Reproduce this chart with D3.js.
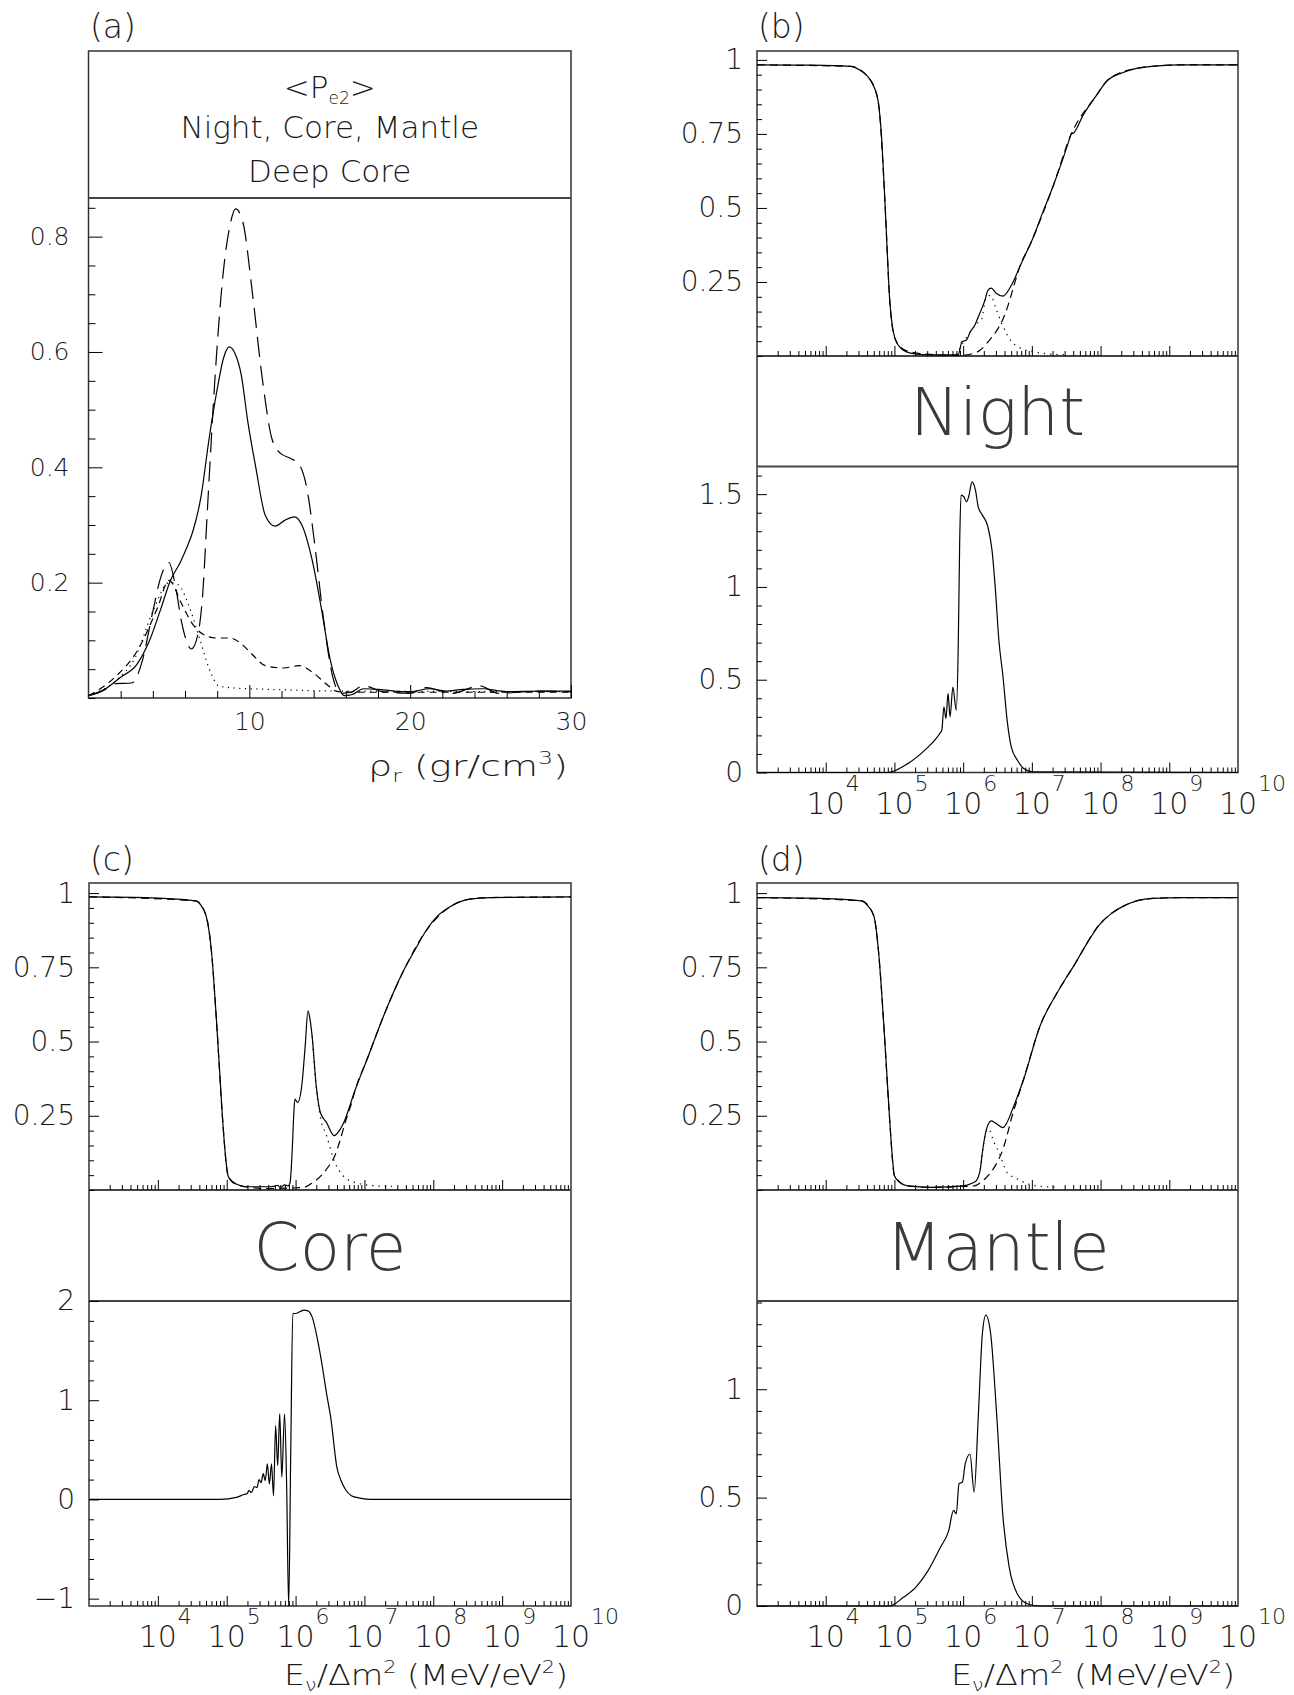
<!DOCTYPE html>
<html>
<head>
<meta charset="utf-8">
<script src="https://cdn.jsdelivr.net/npm/d3@7"></script>
<style>
  body { margin: 0; background: #fff; }
  svg { display: block; }
  text { font-family: "DejaVu Sans", sans-serif; font-weight: 200; fill: #1a1a1a; }
</style>
</head>
<body>
<script>
// ---- panel (a): <Pe2> vs rho_r ----
const aYTicks = [0.2, 0.4, 0.6, 0.8];
const aYLabels = ["0.2", "0.4", "0.6", "0.8"];
const aXTicks = [10, 20, 30];
const aXLabels = ["10", "20", "30"];
const aHeader = ["Night, Core, Mantle", "Deep Core"];

// solid
const pe2Night = [[0,0.004],[1,0.015],[2,0.036],[3,0.058],[3.8,0.10],[4.5,0.155],[5.1,0.204],[5.7,0.235],
  [6.1,0.26],[6.5,0.29],[7.0,0.35],[7.5,0.45],[8.0,0.535],[8.4,0.59],[8.75,0.609],[9.1,0.598],[9.5,0.56],
  [9.9,0.48],[10.4,0.40],[11.0,0.316],[11.6,0.298],[12.2,0.308],[12.8,0.314],[13.3,0.298],[13.9,0.24],
  [14.5,0.152],[15.0,0.07],[15.5,0.022],[15.9,0.004],[16.4,0.006],[17.1,0.016],[18,0.015],[19,0.012],
  [20,0.011],[21.2,0.016],[22.2,0.012],[23.3,0.015],[24.5,0.016],[26,0.011],[28,0.012],[30,0.012]];
// long dash
const pe2Core = [[0,0.004],[1,0.014],[1.6,0.025],[2.7,0.026],[3.3,0.06],[4.0,0.15],[4.5,0.21],[5.0,0.235],
  [5.4,0.195],[5.8,0.13],[6.4,0.085],[6.8,0.11],[7.1,0.18],[7.4,0.33],[7.9,0.57],[8.35,0.73],[8.8,0.82],
  [9.15,0.848],[9.6,0.825],[10.2,0.70],[10.8,0.555],[11.4,0.45],[11.9,0.425],[12.6,0.415],[13.1,0.405],
  [13.6,0.36],[14.05,0.27],[14.6,0.14],[15.2,0.035],[15.7,0.008],[16.3,0.01],[17.1,0.021],[18.3,0.011],
  [20,0.008],[21,0.018],[22.6,0.008],[24.3,0.021],[25.5,0.008],[27.8,0.012],[30,0.011]];
// short dash
const pe2Mantle = [[0,0.004],[1.6,0.035],[3.1,0.085],[4.3,0.157],[5.0,0.204],[5.8,0.163],[6.4,0.131],
  [7.1,0.111],[7.9,0.104],[8.8,0.104],[9.5,0.094],[10.2,0.075],[11,0.056],[12.1,0.052],[13.1,0.056],
  [14,0.043],[14.8,0.024],[15.5,0.011],[16.5,0.01],[30,0.01]];
// dotted
const pe2DeepCore = [[0,0.004],[1.7,0.03],[2.9,0.07],[4.0,0.15],[5.0,0.2],[5.6,0.196],[6.2,0.163],
  [6.9,0.104],[7.5,0.051],[8.1,0.021],[8.8,0.018],[11.2,0.015],[13.6,0.013],[15.5,0.012],[30,0.011]];

// ---- panels (b), (c), (d): x = log10(E/dm2) ----
const logExponents = ["4", "5", "6", "7", "8", "9", "10"];
const upperYTicks = [0.25, 0.5, 0.75, 1];
const upperYLabels = ["0.25", "0.5", "0.75", "1"];

// (b) Night
const nightTotal = [[3,0.983],[3.8,0.982],[4.36,0.978],[4.5,0.965],[4.61,0.944],[4.7,0.91],[4.76,0.865],
  [4.81,0.75],[4.86,0.529],[4.9,0.33],[4.93,0.193],[4.97,0.1],[5.01,0.058],[5.08,0.03],[5.16,0.015],
  [5.3,0.007],[5.5,0.004],[5.93,0.004],[5.96,0.03],[5.98,0.048],[6.05,0.054],[6.1,0.08],[6.17,0.104],
  [6.22,0.132],[6.27,0.16],[6.32,0.19],[6.36,0.222],[6.41,0.229],[6.48,0.212],[6.58,0.202],[6.64,0.215],
  [6.7,0.238],[6.85,0.315],[7.01,0.395],[7.15,0.48],[7.31,0.574],[7.45,0.665],[7.55,0.735],[7.57,0.75],
  [7.6,0.752],[7.75,0.815],[7.93,0.877],[8.11,0.933],[8.3,0.955],[8.54,0.972],[8.8,0.979],[9.16,0.983],[10,0.983]];
const nightDotted = [[5.9,0.004],[6.0,0.045],[6.1,0.08],[6.2,0.11],[6.27,0.125],[6.33,0.195],[6.4,0.205],
  [6.47,0.165],[6.58,0.1],[6.7,0.05],[6.85,0.025],[7.0,0.015],[7.2,0.008],[7.5,0.004]];
const nightDashed = [[3,0.983],[4.36,0.978],[4.61,0.944],[4.76,0.865],[4.86,0.529],[4.93,0.193],[5.01,0.058],
  [5.16,0.019],[5.47,0.006],[5.9,0.002],[6.1,0.006],[6.25,0.02],[6.37,0.05],[6.5,0.09],[6.58,0.125],
  [6.66,0.175],[6.73,0.23],[6.8,0.285],[7.01,0.395],[7.31,0.574],[7.56,0.742],[7.93,0.877],[8.11,0.933],
  [8.54,0.972],[9.16,0.983],[10,0.983]];
const nightLowerTicks = [0, 0.5, 1, 1.5];
const nightLowerLabels = ["0", "0.5", "1", "1.5"];
const nightLower = [[3,0],[4.9,0],[5.16,0.04],[5.47,0.13],[5.6,0.18],[5.66,0.21],[5.69,0.23],[5.72,0.354],
  [5.75,0.29],[5.78,0.426],[5.81,0.30],[5.85,0.46],[5.9,0.336],[5.93,0.71],[5.95,1.25],[5.97,1.495],
  [6.01,1.486],[6.05,1.459],[6.08,1.486],[6.13,1.566],[6.18,1.52],[6.22,1.43],[6.28,1.387],[6.36,1.324],
  [6.42,1.198],[6.47,0.983],[6.52,0.713],[6.58,0.516],[6.64,0.282],[6.7,0.138],[6.79,0.066],[6.88,0.022],
  [7.01,0.004],[10,0]];

// (c) Core
const coreTotal = [[3,0.987],[3.8,0.985],[4.55,0.974],[4.65,0.95],[4.7,0.924],[4.78,0.8],[4.85,0.575],
  [4.9,0.39],[4.94,0.239],[4.98,0.12],[5.02,0.048],[5.08,0.027],[5.14,0.02],[5.26,0.011],[5.62,0.011],
  [5.7,0.013],[5.74,0.016],[5.77,0.01],[5.8,0.011],[5.84,0.017],[5.89,0.014],[5.92,0.025],[5.95,0.127],
  [5.975,0.26],[5.99,0.306],[6.03,0.295],[6.09,0.351],[6.14,0.486],[6.18,0.603],[6.21,0.575],[6.24,0.519],
  [6.3,0.351],[6.36,0.261],[6.45,0.227],[6.56,0.183],[6.62,0.195],[6.69,0.222],[6.87,0.34],[7.04,0.441],
  [7.28,0.587],[7.45,0.68],[7.58,0.744],[7.75,0.815],[7.88,0.868],[8.05,0.92],[8.23,0.952],[8.53,0.98],
  [8.83,0.985],[10,0.987]];
const coreDotted = [[6.24,0.519],[6.3,0.345],[6.36,0.245],[6.45,0.183],[6.57,0.093],[6.69,0.048],
  [6.87,0.025],[7.16,0.014],[7.4,0.012]];
const coreDashed = [[3,0.987],[4.55,0.974],[4.7,0.924],[4.78,0.8],[4.85,0.575],[4.94,0.239],[5.02,0.048],
  [5.14,0.02],[5.3,0.01],[5.6,0.005],[6.12,0.009],[6.25,0.025],[6.39,0.053],[6.48,0.08],[6.57,0.115],
  [6.65,0.17],[6.72,0.227],[6.81,0.29],[6.87,0.34],[7.04,0.441],[7.28,0.587],[7.58,0.744],[7.88,0.868],
  [8.23,0.952],[8.53,0.98],[8.83,0.985],[10,0.987]];
const coreLowerTicks = [-1, 0, 1, 2];
const coreLowerLabels = ["\u22121", "0", "1", "2"];
const coreLower = [[3,0],[4.91,0],[5.14,0.02],[5.25,0.05],[5.3,0.06],[5.32,0.09],[5.36,0.07],[5.4,0.13],
  [5.44,0.12],[5.47,0.2],[5.5,0.17],[5.53,0.26],[5.56,0.19],[5.59,0.358],[5.62,0.156],[5.65,0.358],
  [5.68,0.038],[5.71,0.745],[5.74,0.341],[5.77,0.863],[5.8,0.224],[5.84,0.863],[5.87,0.156],[5.9,-1.074],
  [5.93,0.49],[5.96,1.874],[6.0,1.874],[6.06,1.891],[6.12,1.908],[6.18,1.901],[6.24,1.84],[6.33,1.571],
  [6.39,1.335],[6.45,1.066],[6.51,0.83],[6.6,0.324],[6.66,0.19],[6.72,0.105],[6.81,0.038],[6.93,0.014],
  [7.1,0],[10,0]];

// (d) Mantle
const mantleTotal = [[3,0.985],[3.8,0.983],[4.52,0.974],[4.62,0.955],[4.7,0.923],[4.77,0.8],[4.84,0.575],
  [4.89,0.39],[4.93,0.239],[4.97,0.11],[5.0,0.048],[5.08,0.025],[5.19,0.014],[5.55,0.009],[6.0,0.014],
  [6.12,0.022],[6.19,0.031],[6.25,0.07],[6.28,0.127],[6.34,0.205],[6.41,0.233],[6.49,0.222],[6.58,0.21],
  [6.64,0.228],[6.7,0.261],[6.88,0.373],[7.12,0.553],[7.37,0.665],[7.5,0.715],[7.61,0.755],[7.8,0.83],
  [7.97,0.89],[8.15,0.93],[8.34,0.957],[8.76,0.982],[9.18,0.985],[10,0.985]];
const mantleDotted = [[6.25,0.07],[6.28,0.125],[6.34,0.2],[6.37,0.205],[6.45,0.16],[6.52,0.127],
  [6.64,0.059],[6.79,0.037],[7.06,0.014],[7.37,0.009]];
const mantleDashed = [[3,0.985],[4.52,0.974],[4.7,0.923],[4.77,0.8],[4.84,0.575],[4.93,0.239],[5.0,0.048],
  [5.19,0.014],[5.55,0.009],[6.0,0.012],[6.16,0.014],[6.28,0.03],[6.4,0.059],[6.5,0.095],[6.58,0.138],
  [6.64,0.185],[6.7,0.239],[6.78,0.3],[6.88,0.373],[7.12,0.553],[7.37,0.665],[7.61,0.755],[7.97,0.89],
  [8.34,0.957],[8.76,0.982],[9.18,0.985],[10,0.985]];
const mantleLowerTicks = [0, 0.5, 1];
const mantleLowerLabels = ["0", "0.5", "1"];
const mantleLower = [[3,0],[4.93,0],[5.13,0.04],[5.31,0.086],[5.49,0.163],[5.67,0.271],[5.79,0.348],
  [5.86,0.441],[5.9,0.425],[5.94,0.564],[5.99,0.572],[6.03,0.656],[6.1,0.70],[6.16,0.525],[6.22,0.872],
  [6.28,1.257],[6.33,1.342],[6.4,1.257],[6.49,0.872],[6.58,0.41],[6.67,0.179],[6.79,0.055],[6.94,0.009],
  [7.12,0],[10,0]];

const svg = d3.select("body").append("svg")
    .attr("width", 1294)
    .attr("height", 1695);

const FRAME = "#333";

function box(g, L, R, top, bottom, seps) {
    g.append("rect")
        .attr("x", L).attr("y", top)
        .attr("width", R - L).attr("height", bottom - top)
        .attr("fill", "none").attr("stroke", FRAME).attr("stroke-width", 1.5);
    seps.forEach(y => g.append("line")
        .attr("x1", L).attr("x2", R).attr("y1", y).attr("y2", y)
        .attr("stroke", "#444").attr("stroke-width", 1.8));
}

function yAxis(g, L, scale, ticks, labels, minorStep, bigLen, smallLen, pad, fontSize) {
    const [lo, hi] = scale.domain();
    const minors = d3.range(Math.ceil(lo / minorStep) * minorStep, hi + 1e-9, minorStep)
        .filter(v => !ticks.some(t => Math.abs(t - v) < 1e-9));
    g.append("g").attr("transform", `translate(${L},0)`)
        .call(d3.axisLeft(scale).tickValues(minors).tickSize(-smallLen).tickFormat(""))
        .call(s => s.select(".domain").remove());
    g.append("g").attr("transform", `translate(${L},0)`)
        .call(d3.axisLeft(scale).tickValues(ticks).tickSize(-bigLen).tickPadding(pad)
            .tickFormat((d, i) => labels[i]))
        .call(s => s.select(".domain").remove())
        .attr("font-size", fontSize).attr("font-family", null);
}

function xLogTicks(g, scale, y) {
    const majors = d3.range(4, 10).map(e => Math.pow(10, e));
    const minors = [];
    d3.range(3, 10).forEach(e => d3.range(2, 10).forEach(m => minors.push(m * Math.pow(10, e))));
    g.append("g").attr("transform", `translate(0,${y})`)
        .call(d3.axisBottom(scale).tickValues(minors).tickSize(-5).tickFormat(""))
        .call(s => s.select(".domain").remove());
    g.append("g").attr("transform", `translate(0,${y})`)
        .call(d3.axisBottom(scale).tickValues(majors).tickSize(-10).tickFormat(""))
        .call(s => s.select(".domain").remove());
}

function xLogLabels(g, scale, y) {
    logExponents.forEach(e => {
        const x = scale(Math.pow(10, +e));
        g.append("text").attr("x", x).attr("y", y + 41)
            .attr("text-anchor", "middle").attr("font-size", 30).text("10");
        g.append("text").attr("x", x + 20).attr("y", y + 18)
            .attr("font-size", 22).text(e);
    });
}

function curve(g, data, xs, ys, dash, isLog) {
    const line = d3.line()
        .x(d => xs(isLog ? Math.pow(10, d[0]) : d[0]))
        .y(d => ys(d[1]))
        .curve(d3.curveMonotoneX);
    g.append("path").datum(data)
        .attr("d", line)
        .attr("fill", "none")
        .attr("stroke", "#000")
        .attr("stroke-width", 1.2)
        .attr("stroke-dasharray", dash);
}

function panelLabel(x, y, s) {
    svg.append("text").attr("x", x).attr("y", y).attr("font-size", 33).text(s);
}

function energyTitle(g, xEnd, y) {
    const t = g.append("text").attr("x", xEnd).attr("y", y)
        .attr("text-anchor", "end").attr("font-size", 29)
        .attr("textLength", 284).attr("lengthAdjust", "spacingAndGlyphs");
    t.append("tspan").text("E");
    t.append("tspan").attr("font-size", 18).attr("dy", 6).text("\u03bd");
    t.append("tspan").attr("dy", -6).text("/\u0394m");
    t.append("tspan").attr("font-size", 18).attr("dy", -12).text("2");
    t.append("tspan").attr("dy", 12).text(" (MeV/eV");
    t.append("tspan").attr("font-size", 18).attr("dy", -12).text("2");
    t.append("tspan").attr("dy", 12).text(")");
}

// ================= panel (a) =================
{
    const L = 88.5, R = 571, top = 51, sep = 198, B = 698;
    const x = d3.scaleLinear().domain([0, 30]).range([L, R]);
    const y = d3.scaleLinear().domain([0, 0.867]).range([B, sep]);
    const g = svg.append("g").attr("class", "panel-a");
    box(g, L, R, top, B, [sep]);

    const cx = (L + R) / 2;
    const h = g.append("text").attr("x", cx).attr("y", 98)
        .attr("text-anchor", "middle").attr("font-size", 31);
    h.append("tspan").text("<P");
    h.append("tspan").attr("font-size", 17).attr("dy", 6).text("e2");
    h.append("tspan").attr("dy", -6).text(">");
    aHeader.forEach((s, i) => g.append("text").attr("x", cx).attr("y", 138 + i * 44)
        .attr("text-anchor", "middle").attr("font-size", 31).text(s));

    yAxis(g, L, y, aYTicks, aYLabels, 0.05, 14, 7, 19, 25);

    g.append("g").attr("transform", `translate(0,${B})`)
        .call(d3.axisBottom(x).tickValues(d3.range(2, 30, 2).filter(v => v % 10)).tickSize(-7).tickFormat(""))
        .call(s => s.select(".domain").remove());
    g.append("g").attr("transform", `translate(0,${B})`)
        .call(d3.axisBottom(x).tickValues(aXTicks).tickSize(-13).tickPadding(14)
            .tickFormat((d, i) => aXLabels[i]))
        .call(s => s.select(".domain").remove())
        .attr("font-size", 25).attr("font-family", null);

    const t = g.append("text").attr("x", R - 3).attr("y", 776)
        .attr("text-anchor", "end").attr("font-size", 29)
        .attr("textLength", 200).attr("lengthAdjust", "spacingAndGlyphs");
    t.append("tspan").text("\u03c1");
    t.append("tspan").attr("font-size", 18).attr("dy", 6).text("r");
    t.append("tspan").attr("dy", -6).text(" (gr/cm");
    t.append("tspan").attr("font-size", 18).attr("dy", -12).text("3");
    t.append("tspan").attr("dy", 12).text(")");

    curve(g, pe2DeepCore, x, y, "1.2,4.5", false);
    curve(g, pe2Mantle, x, y, "7,5", false);
    curve(g, pe2Core, x, y, "20,9", false);
    curve(g, pe2Night, x, y, null, false);
    panelLabel(90, 38, "(a)");
}

// ============ panels (b), (c), (d) ============
function logPanel(cfg) {
    const { L, R, top, m1, m2, B, name, upper, lowerDomain, lowerTicks, lowerLabels, lowerMinor,
            total, dotted, dashed, lower, withTitle } = cfg;
    const x = d3.scaleLog().domain([1e3, 1e10]).range([L, R]);
    const yU = d3.scaleLinear().domain([0, upper]).range([m1, top]);
    const yL = d3.scaleLinear().domain(lowerDomain).range([B, m2]);
    const g = svg.append("g");
    box(g, L, R, top, B, [m1, m2]);

    yAxis(g, L, yU, upperYTicks, upperYLabels, 0.05, 10, 5, 14, 28);
    xLogTicks(g, x, m1);
    yAxis(g, L, yL, lowerTicks, lowerLabels, lowerMinor, 10, 5, 14, 28);
    xLogTicks(g, x, B);
    xLogLabels(g, x, B);

    g.append("text").attr("x", (L + R) / 2).attr("y", (m1 + m2) / 2 + 24)
        .attr("text-anchor", "middle").attr("font-size", 66)
        .style("fill", "#3a3a3a").text(name);

    curve(g, dotted, x, yU, "1.3,5", true);
    curve(g, dashed, x, yU, "8,5", true);
    curve(g, total, x, yU, null, true);
    curve(g, lower, x, yL, null, true);
    if (withTitle) energyTitle(g, R - 3, 1685);
}

logPanel({ L: 757, R: 1238, top: 51, m1: 356, m2: 466.5, B: 772.5, name: "Night", upper: 1.03,
    lowerDomain: [0, 1.649], lowerTicks: nightLowerTicks, lowerLabels: nightLowerLabels, lowerMinor: 0.1,
    total: nightTotal, dotted: nightDotted, dashed: nightDashed, lower: nightLower, withTitle: false });
logPanel({ L: 89, R: 571, top: 883, m1: 1190, m2: 1301, B: 1606, name: "Core", upper: 1.034,
    lowerDomain: [-1.074, 2], lowerTicks: coreLowerTicks, lowerLabels: coreLowerLabels, lowerMinor: 0.2,
    total: coreTotal, dotted: coreDotted, dashed: coreDashed, lower: coreLower, withTitle: true });
logPanel({ L: 757, R: 1238, top: 883, m1: 1190, m2: 1301, B: 1606, name: "Mantle", upper: 1.034,
    lowerDomain: [0, 1.407], lowerTicks: mantleLowerTicks, lowerLabels: mantleLowerLabels, lowerMinor: 0.1,
    total: mantleTotal, dotted: mantleDotted, dashed: mantleDashed, lower: mantleLower, withTitle: true });

panelLabel(758, 38, "(b)");
panelLabel(90, 871, "(c)");
panelLabel(758, 871, "(d)");
</script>
</body>
</html>
